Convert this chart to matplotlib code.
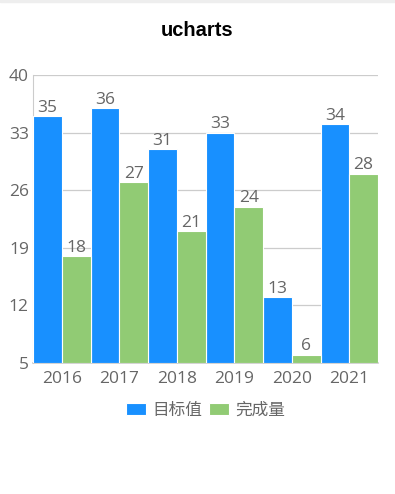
import matplotlib
matplotlib.use('Agg')
import matplotlib.pyplot as plt
import numpy as np
from matplotlib.patches import Rectangle

years = ["2016", "2017", "2018", "2019", "2020", "2021"]
target = [35, 36, 31, 33, 13, 34]
done = [18, 27, 21, 24, 6, 28]
series_names = ["目标值", "完成量"]
y_ticks = [5, 12, 19, 26, 33, 40]

BLUE = "#1890FF"
GREEN = "#91CB74"
TXT = "#666666"

plt.rcParams['font.family'] = ['Open Sans', 'Noto Sans CJK SC', 'DejaVu Sans']

fig = plt.figure(figsize=(3.95, 4.94), dpi=100)
fig.patches.append(Rectangle((0, 1 - 2 / 494), 1, 2 / 494, transform=fig.transFigure,
                             color="#eeeeee", zorder=0))
ax = fig.add_axes([33 / 395, 1 - 363 / 494, 345 / 395, 288 / 494])

x = np.arange(len(years))
w = 0.5
b1 = ax.bar(x - w / 2, np.array(target) - 5, w, bottom=5, color=BLUE,
            edgecolor="white", linewidth=0.8, zorder=3)
b2 = ax.bar(x + w / 2, np.array(done) - 5, w, bottom=5, color=GREEN,
            edgecolor="white", linewidth=0.8, zorder=3)

for bars, vals in ((b1, target), (b2, done)):
    for r, v in zip(bars, vals):
        ax.text(r.get_x() + r.get_width() / 2, v + 0.05, str(v), ha="center", va="bottom",
                color=TXT, fontsize=12.5)

ax.set_xlim(-0.5, len(years) - 0.5)
ax.set_ylim(5, 40)
ax.set_yticks(y_ticks)
ax.set_xticks(x)
ax.set_xticklabels(years)
ax.tick_params(length=0, colors=TXT, labelsize=12.5)
ax.tick_params(axis="y", pad=3)
ax.tick_params(axis="x", pad=6)
ax.grid(True, axis="y", color="#cccccc", linewidth=0.9, zorder=0)
for s in ("top", "right"):
    ax.spines[s].set_visible(False)
ax.spines["left"].set_color("#cccccc")
ax.spines["bottom"].set_color("#cccccc")
ax.spines["bottom"].set_linewidth(1.2)

fig.text(0.5, 1 - 30 / 494, "ucharts", ha="center", va="center", fontsize=14.5,
         fontweight="bold", family="Liberation Sans", color="black")

ax.legend([b1, b2], series_names, loc="center", bbox_to_anchor=(0.5, (363 - 411) / 288),
          ncol=2, frameon=False, fontsize=12, labelcolor=TXT, handlelength=1.2,
          handleheight=0.75, handletextpad=0.4, columnspacing=0.4)

fig.savefig("out.png", dpi=100)
